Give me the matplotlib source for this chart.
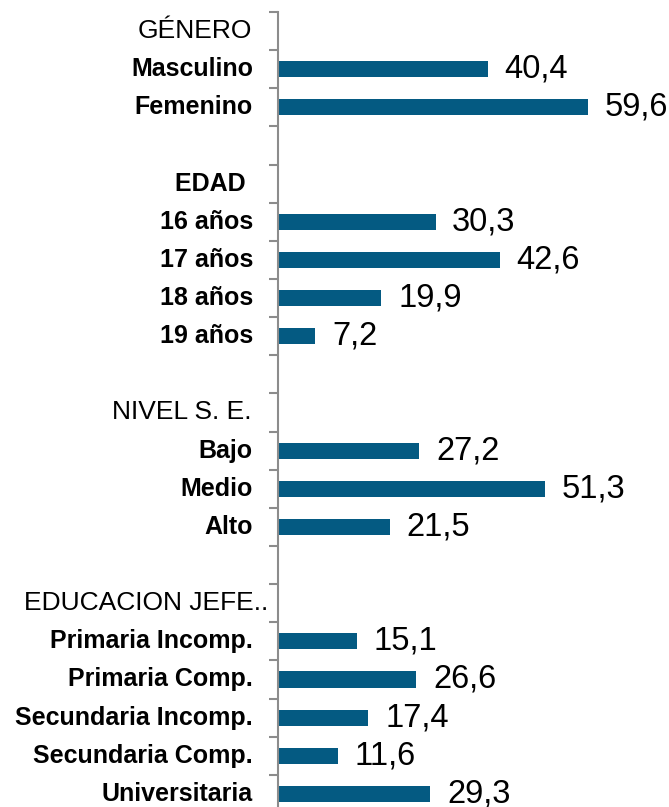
import matplotlib
matplotlib.use('Agg')
import matplotlib.pyplot as plt
import matplotlib.transforms as mtransforms
import numpy as np

plt.rcParams['font.family'] = ['Liberation Sans', 'DejaVu Sans']

# groups: header, categories, percentages
genero_cats = ['Masculino', 'Femenino']
genero_vals = [40.4, 59.6]
edad_cats = ['16 años', '17 años', '18 años', '19 años']
edad_vals = [30.3, 42.6, 19.9, 7.2]
nse_cats = ['Bajo', 'Medio', 'Alto']
nse_vals = [27.2, 51.3, 21.5]
educ_cats = ['Primaria Incomp.', 'Primaria Comp.', 'Secundaria Incomp.',
             'Secundaria Comp.', 'Universitaria']
educ_vals = [15.1, 26.6, 17.4, 11.6, 29.3]

groups = [('GÉNERO', genero_cats, genero_vals),
          ('EDAD ', edad_cats, edad_vals),
          ('NIVEL S. E.', nse_cats, nse_vals),
          ('EDUCACION JEFE..', educ_cats, educ_vals)]

# build rows (header row, category rows, blank spacer row)
rows = []
for gi, (head, cats, vals) in enumerate(groups):
    rows.append((head, None, 'head'))
    for c, v in zip(cats, vals):
        rows.append((c, v, 'cat'))
    if gi < len(groups) - 1:
        rows.append(('', None, 'blank'))

W, H = 669, 807
fig = plt.figure(figsize=(W / 100, H / 100), dpi=100)
ax = fig.add_axes([278 / W, -6 / H, 1 - 278 / W, (H - 12 + 6) / H])

bar_color = '#045a82'
gray = '#8c8c8c'

for i, (lab, v, kind) in enumerate(rows):
    if v is not None:
        ax.barh(i, v, height=0.42, color=bar_color)
        ax.annotate(f'{v:.1f}'.replace('.', ','), (v, i), xytext=(12, 0),
                    textcoords='offset points', ha='left', va='center',
                    fontsize=23.5, color='black')

ax.set_xlim(0, (W - 278) / 5.2)
ax.set_ylim(len(rows) - 0.5, -0.5)

# category labels
base = ax.get_yaxis_transform()
for i, (lab, v, kind) in enumerate(rows):
    if not lab:
        continue
    if kind == 'head' and lab != 'EDAD ':
        dx = -10 if lab.startswith('EDUCACION') else -26
        tr = mtransforms.offset_copy(base, fig=fig, x=dx, y=0, units='dots')
        ax.text(0, i, lab, transform=tr, ha='right', va='center',
                fontsize=19, color='black')
    else:
        tr = mtransforms.offset_copy(base, fig=fig, x=-25, y=0, units='dots')
        ax.text(0, i, lab, transform=tr, ha='right', va='center',
                fontsize=18, fontweight='bold', color='black')

ax.set_yticks(np.arange(-0.5, len(rows), 1))
ax.set_yticklabels([])
ax.set_xticks([])
ax.tick_params(axis='y', direction='out', length=6.5, width=1.5, color=gray)
for s in ['top', 'right', 'bottom']:
    ax.spines[s].set_visible(False)
ax.spines['left'].set_color(gray)
ax.spines['left'].set_linewidth(1.5)

fig.savefig('out.png', dpi=100)
